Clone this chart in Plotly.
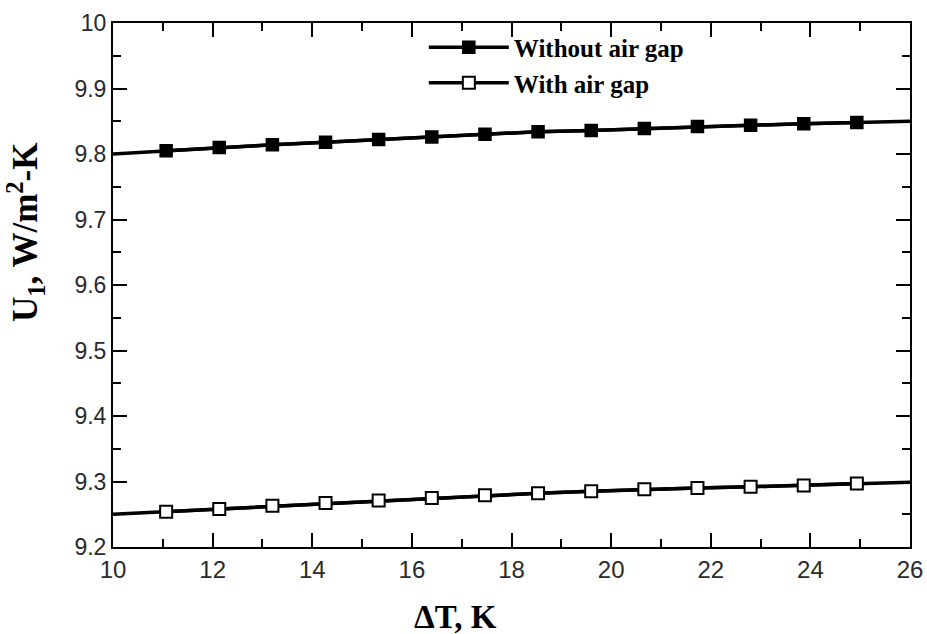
import plotly.graph_objects as go

# Temperature difference, K (16 evenly spaced points from 10 to 26)
delta_t = [10.0, 11.067, 12.133, 13.2, 14.267, 15.333, 16.4, 17.467,
           18.533, 19.6, 20.667, 21.733, 22.8, 23.867, 24.933, 26.0]

# Overall heat loss coefficient U1, W/m2-K
u1_without_gap = [9.800, 9.805, 9.810, 9.814, 9.818, 9.822, 9.826, 9.830,
                  9.834, 9.836, 9.839, 9.842, 9.844, 9.846, 9.848, 9.850]
u1_with_gap = [9.250, 9.254, 9.258, 9.263, 9.267, 9.271, 9.275, 9.279,
               9.282, 9.285, 9.288, 9.290, 9.292, 9.294, 9.297, 9.299]

series_names = ["Without air gap", "With air gap"]

y_tick_vals = [9.2, 9.3, 9.4, 9.5, 9.6, 9.7, 9.8, 9.9, 10.0]
y_tick_text = ["9.2", "9.3", "9.4", "9.5", "9.6", "9.7", "9.8", "9.9", "10"]

serif = "Liberation Serif, Times New Roman, serif"
sans = "Liberation Sans, Arial, sans-serif"

fig = go.Figure()

styles = [
    dict(symbol="square", color="black", line=dict(color="black", width=1.5)),
    dict(symbol="square", color="white", line=dict(color="black", width=2)),
]

for i, (name, ys, mk) in enumerate(zip(series_names, [u1_without_gap, u1_with_gap], styles)):
    # full line across the range
    fig.add_trace(go.Scatter(
        x=delta_t, y=ys, mode="lines",
        line=dict(color="black", width=3.5),
        showlegend=False, hoverinfo="skip",
    ))
    # markers on the interior points
    fig.add_trace(go.Scatter(
        x=delta_t[1:-1], y=ys[1:-1], mode="lines+markers",
        name=f"<b>{name}</b>", legendgroup=f"g{i}",
        line=dict(color="black", width=3.5),
        marker=dict(size=12, **mk),
    ))

axis_common = dict(
    showline=True, linecolor="black", linewidth=2, mirror="allticks",
    ticks="inside", ticklen=14, tickwidth=2, tickcolor="black",
    showgrid=False, zeroline=False, automargin=False,
    ticklabeloverflow="allow",
)

fig.update_xaxes(
    range=[10, 26], dtick=2, tick0=10,
    minor=dict(dtick=1, ticks="inside", ticklen=8, tickwidth=2, tickcolor="black"),
    tickfont=dict(family=sans, size=24, color="#2a2a2a"),
    **axis_common,
)
fig.update_yaxes(
    range=[9.2, 10.0],
    tickvals=y_tick_vals, ticktext=y_tick_text,
    minor=dict(dtick=0.05, ticks="inside", ticklen=8, tickwidth=2, tickcolor="black"),
    tickfont=dict(family=sans, size=23, color="#2a2a2a"),
    **axis_common,
)

# Axis titles
fig.add_annotation(
    text="<b>ΔT, K</b>", xref="paper", yref="paper",
    x=0.43, y=-0.134, xanchor="center", yanchor="middle",
    showarrow=False, font=dict(family=serif, size=33, color="black"),
)
fig.add_annotation(
    text="<b>U<sub>1</sub>, W/m<sup>2</sup>-K</b>", xref="paper", yref="paper",
    x=-0.11, y=0.6, xanchor="center", yanchor="middle",
    textangle=-90, showarrow=False, font=dict(family=serif, size=35, color="black"),
)

fig.update_layout(
    width=927, height=634,
    margin=dict(l=113, r=17, t=23, b=87, autoexpand=False),
    paper_bgcolor="white", plot_bgcolor="white",
    legend=dict(
        x=0.39, y=0.997, xanchor="left", yanchor="top",
        bgcolor="rgba(0,0,0,0)", borderwidth=0,
        font=dict(family=serif, size=25, color="black"),
        itemwidth=80, tracegroupgap=0,
    ),
    showlegend=True,
)

fig.write_html("out.html")
